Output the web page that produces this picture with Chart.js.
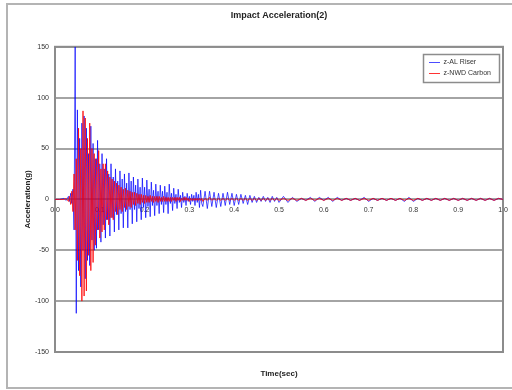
<!DOCTYPE html>
<html>
<head>
<meta charset="utf-8">
<script src="https://cdn.jsdelivr.net/npm/chart.js@4/dist/chart.umd.min.js"></script>
<style>
  body { margin: 0; background: #fff; }
  #wrap { width: 512px; height: 390px; }
</style>
</head>
<body>
<div id="wrap"><canvas id="myChart" width="512" height="390"></canvas></div>
<script>
// sample times (sec)
var timeSec = [
  0, 0.01, 0.02, 0.025,
  0.0300, 0.0325, 0.0350, 0.0375, 0.0400, 0.0425, 0.0450, 0.0475,
  0.0500, 0.0525, 0.0550, 0.0575, 0.0600, 0.0625, 0.0650, 0.0675,
  0.0700, 0.0725, 0.0750, 0.0775, 0.0800, 0.0825, 0.0850, 0.0875,
  0.0900, 0.0925, 0.0950, 0.0975, 0.1000, 0.1025, 0.1050, 0.1075,
  0.1100, 0.1125, 0.1150, 0.1175, 0.1200, 0.1225, 0.1250, 0.1275,
  0.1300, 0.1325, 0.1350, 0.1375, 0.1400, 0.1425, 0.1450, 0.1475,
  0.1500, 0.1525, 0.1550, 0.1575, 0.1600, 0.1625, 0.1650, 0.1675,
  0.1700, 0.1725, 0.1750, 0.1775, 0.1800, 0.1825, 0.1850, 0.1875,
  0.1900, 0.1925, 0.1950, 0.1975, 0.2000, 0.2025, 0.2050, 0.2075,
  0.2100, 0.2125, 0.2150, 0.2175, 0.2200, 0.2225, 0.2250, 0.2275,
  0.2300, 0.2325, 0.2350, 0.2375, 0.2400, 0.2425, 0.2450, 0.2475,
  0.2500, 0.2525, 0.2550, 0.2575, 0.2600, 0.2625, 0.2650, 0.2675,
  0.2700, 0.2725, 0.2750, 0.2775, 0.2800, 0.2825, 0.2850, 0.2875,
  0.2900, 0.2925, 0.2950, 0.2975, 0.3000, 0.3025, 0.3050, 0.3075,
  0.3100, 0.3125, 0.3150, 0.3175, 0.3200, 0.3225, 0.3250, 0.3275,
  0.330, 0.335, 0.340, 0.345, 0.350, 0.355, 0.360, 0.365, 0.370, 0.375,
  0.380, 0.385, 0.390, 0.395, 0.400, 0.405, 0.410, 0.415, 0.420, 0.425,
  0.430, 0.435, 0.440, 0.445, 0.450, 0.455, 0.460, 0.465, 0.470, 0.475,
  0.480, 0.485, 0.490, 0.495, 0.500,
  0.51, 0.52, 0.53, 0.54, 0.55, 0.56, 0.57, 0.58, 0.59, 0.60,
  0.61, 0.62, 0.63, 0.64, 0.65, 0.66, 0.67, 0.68, 0.69, 0.70,
  0.71, 0.72, 0.73, 0.74, 0.75, 0.76, 0.77, 0.78, 0.79, 0.80,
  0.81, 0.82, 0.83, 0.84, 0.85, 0.86, 0.87, 0.88, 0.89, 0.90,
  0.91, 0.92, 0.93, 0.94, 0.95, 0.96, 0.97, 0.98, 0.99, 1.00
];

// z-AL Riser (g)
var riserAccel = [
  0, 0, 1, -1,
  3, -2, 6, -4, 10, -30, 150, -112,
  88, -70, 60, -86, 75, -50, 82, -78,
  70, -60, 45, -65, 72, -40, 55, -50,
  40, -48, 58, -30, 35, -42, 45, -25,
  30, -38, 40, -20, 25, -36, 35, -18,
  22, -32, 30, -15, 18, -30, 28, -14,
  20, -28, 25, -12, 16, -28, 26, -10,
  18, -24, 22, -10, 14, -22, 20, -9,
  12, -20, 21, -8, 12, -18, 19, -7,
  10, -17, 17, -6, 9, -16, 15, -6,
  8, -14, 14, -5, 8, -13, 13, -5,
  7, -14, 15, -4, 6, -11, 11, -4,
  5, -9, 10, -3, 4, -8, 7, -3,
  3, -6, 6, -2, 3, -5, 5, -2,
  4, -6, 7, -3, 5, -8, 9, -4,
  -7, 8, -9, 8, -7, 7, -8, 6, -7, 6,
  -6, 7, -5, 6, -6, 5, -5, 5, -4, 4,
  -5, 4, -3, 3, -3, 2, -2, 3, -2, 2,
  -3, 3, -2, 2, -3,
  3, -3, 2, -2, 1, -1, 2, -2, 2, -1,
  2, -2, 2, -1, 1, -1, 1, -1, 2, -2,
  1, -1, 1, -1, 1, -1, 1, -2, 2, -2,
  1, -1, 1, -1, 1, -1, 1, -1, 1, -1,
  1, -1, 1, -1, 1, -1, 1, -1, 1, 0
];

// z-NWD Carbon (g)
var carbonAccel = [
  0, 0, 0, 1,
  -2, 3, -5, 8, -12, 25, -30, 40,
  -60, 70, -75, 50, -100, 87, -95, 80,
  -90, 60, -55, 75, -70, 50, -62, 45,
  -45, 40, -30, 48, -38, 30, -32, 35,
  -30, 35, -20, 28, -25, 22, -18, 20,
  -20, 18, -12, 16, -15, 14, -10, 12,
  -12, 10, -8, 11, -10, 9, -7, 8,
  -8, 7, -5, 7, -6, 6, -4, 5,
  -5, 5, -3, 4, -4, 4, -3, 3,
  -3, 4, -2, 3, -3, 3, -2, 3,
  -3, 3, -2, 2, -2, 3, -2, 2,
  -2, 2, -2, 2, -2, 2, -1, 2,
  -2, 2, -1, 2, -2, 1, -1, 2,
  -1, 2, -1, 1, -2, 1, -1, 1,
  -1, 1, -1, 1, -1, 1, -1, 1,
  -2, 1, -1, 2, -1, 1, -1, 1, -1, 1,
  -1, 1, -1, 1, -1, 1, -1, 1, -1, 1,
  -1, 1, -1, 1, -1, 1, -1, 1, -1, 1,
  -1, 1, -1, 1, -1,
  1, -1, 1, -1, 1, -1, 1, -1, 1, -1,
  1, -1, 1, -1, 1, -1, 1, -1, 1, -1,
  1, -1, 1, -1, 1, -1, 1, -1, 1, -1,
  1, -1, 1, -1, 1, -1, 1, -1, 1, -1,
  1, -1, 1, -1, 1, -1, 1, -1, 1, 0
];

var seriesNames = ["z-AL Riser", "z-NWD Carbon"];
var seriesColors = ["rgba(0,0,255,0.7)", "rgba(255,0,0,0.8)"];
var yTicks = [-150, -100, -50, 0, 50, 100, 150];

function toPoints(values) {
  return timeSec.map((t, i) => ({ x: t, y: values[i] }));
}

function noPad(scale) {
  scale.paddingLeft = 0;
  scale.paddingRight = 0;
  scale.paddingTop = 0;
  scale.paddingBottom = 0;
}

// outer frame, plot border and legend box
var framePlugin = {
  id: "frames",
  afterLayout(chart) {
    var lg = chart.legend;
    lg.left = 425;
    lg.top = 55;
    lg.right = lg.left + lg.width;
    lg.bottom = lg.top + lg.height;
  },
  beforeDraw(chart) {
    var ctx = chart.ctx;
    ctx.save();
    ctx.fillStyle = "#fff";
    ctx.fillRect(0, 0, chart.width, chart.height);
    ctx.strokeStyle = "#b4b4b4";
    ctx.lineWidth = 2;
    ctx.strokeRect(7, 4, chart.width + 10, 384);
    ctx.restore();
  },
  beforeDatasetsDraw(chart) {
    var a = chart.chartArea;
    var ctx = chart.ctx;
    ctx.save();
    ctx.strokeStyle = "#8c8c8c";
    ctx.lineWidth = 2;
    ctx.strokeRect(a.left, a.top, a.right - a.left, a.bottom - a.top);
    ctx.restore();
  },
  afterDraw(chart) {
    var ctx = chart.ctx;
    ctx.save();
    ctx.strokeStyle = "#8c8c8c";
    ctx.lineWidth = 1.5;
    ctx.strokeRect(423.5, 54.5, 76, 28);
    ctx.restore();
  }
};

Chart.defaults.font.family = "'Liberation Sans', Arial, sans-serif";
Chart.defaults.color = "#333";

new Chart("myChart", {
  type: "line",
  data: {
    datasets: [{
      label: seriesNames[0],
      data: toPoints(riserAccel),
      borderColor: seriesColors[0],
      backgroundColor: seriesColors[0],
      pointBorderColor: seriesColors[0],
      pointBackgroundColor: seriesColors[0],
      borderWidth: 1,
      pointRadius: 0,
      order: 1
    }, {
      label: seriesNames[1],
      data: toPoints(carbonAccel),
      borderColor: seriesColors[1],
      backgroundColor: seriesColors[1],
      pointBorderColor: seriesColors[1],
      pointBackgroundColor: seriesColors[1],
      borderWidth: 1,
      pointRadius: 0,
      order: 0
    }]
  },
  options: {
    responsive: false,
    animation: false,
    layout: { padding: { left: 10, right: 9, top: 4, bottom: 8 } },
    plugins: {
      title: {
        display: true,
        text: "Impact Acceleration(2)",
        fullSize: false,
        color: "#222",
        font: { size: 9, weight: "bold" },
        padding: { top: 6, bottom: 26 }
      },
      legend: {
        position: "chartArea",
        align: "start",
        labels: {
          usePointStyle: true,
          pointStyle: "line",
          pointStyleWidth: 11,
          padding: 4,
          font: { size: 7 },
          color: "#333",
          sort: (a, b) => a.datasetIndex - b.datasetIndex
        }
      },
      tooltip: { enabled: false }
    },
    scales: {
      x: {
        type: "linear",
        position: "bottom",
        min: 0,
        max: 1,
        ticks: { display: false },
        grid: { display: false },
        border: { display: false },
        title: {
          display: true,
          text: "Time(sec)",
          color: "#222",
          font: { size: 8, weight: "bold" },
          padding: { top: 17, bottom: 3 }
        },
        afterFit(scale) {
          scale.height = 30;
          noPad(scale);
        }
      },
      x2: {
        type: "linear",
        position: { y: 0 },
        min: 0,
        max: 1,
        ticks: {
          stepSize: 0.1,
          autoSkip: false,
          maxRotation: 0,
          padding: 6,
          font: { size: 7 },
          callback: v => v.toFixed(1)
        },
        grid: { display: false, drawTicks: false },
        border: { display: false },
        afterFit(scale) {
          noPad(scale);
        }
      },
      y: {
        min: yTicks[0],
        max: yTicks[yTicks.length - 1],
        afterBuildTicks(scale) {
          scale.ticks = yTicks.map(v => ({ value: v }));
        },
        ticks: { padding: 6, font: { size: 7 } },
        grid: { color: "#a4a4a4", lineWidth: 2, drawTicks: false },
        border: { display: false },
        title: {
          display: true,
          text: "Acceleration(g)",
          color: "#222",
          font: { size: 8, weight: "bold" },
          padding: { top: 13, bottom: 0 }
        },
        afterFit(scale) {
          scale.width = 45;
          noPad(scale);
        }
      }
    }
  },
  plugins: [framePlugin]
});
</script>
</body>
</html>
